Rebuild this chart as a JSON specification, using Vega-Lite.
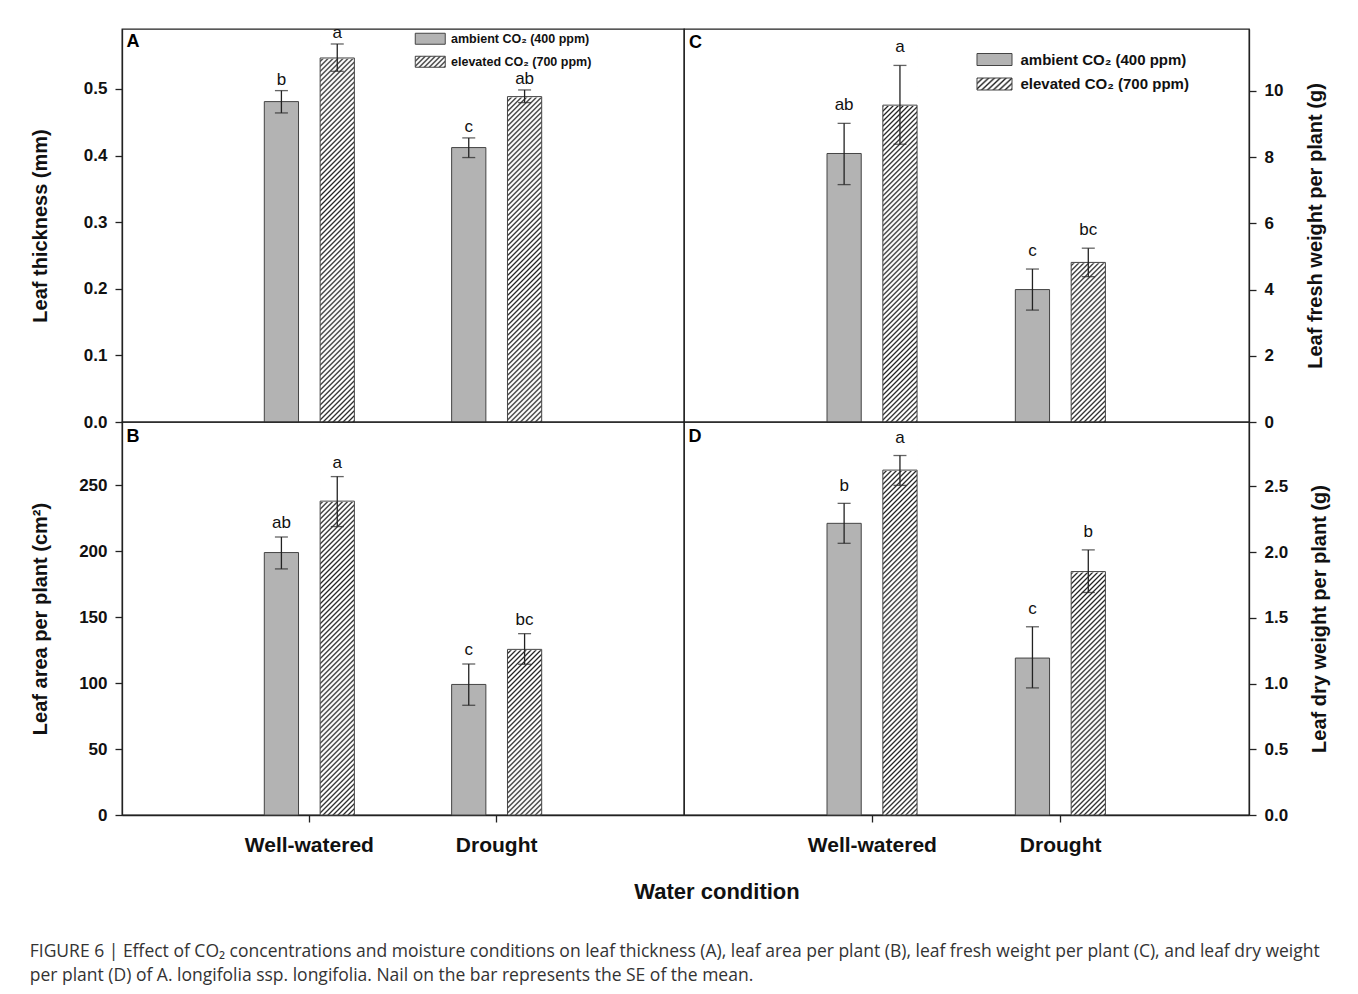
{
"$schema": "https://vega.github.io/schema/vega-lite/v6.json",
"padding": {"left": 29, "top": 23, "right": 10, "bottom": 5},
"background": "#ffffff",
"params": [
{"name": "hatch", "value": {"gradient": "linear", "x1": 0, "y1": 0, "x2": 0.1108, "y2": 1.2658, "stops": [
{"offset":0,"color":"#222"},{"offset":0.0035,"color":"#fff"},{"offset":0.0065,"color":"#fff"},
{"offset":0.01,"color":"#222"},{"offset":0.0135,"color":"#fff"},{"offset":0.0165,"color":"#fff"},
{"offset":0.02,"color":"#222"},{"offset":0.0235,"color":"#fff"},{"offset":0.0265,"color":"#fff"},
{"offset":0.03,"color":"#222"},{"offset":0.0335,"color":"#fff"},{"offset":0.0365,"color":"#fff"},
{"offset":0.04,"color":"#222"},{"offset":0.0435,"color":"#fff"},{"offset":0.0465,"color":"#fff"},
{"offset":0.05,"color":"#222"},{"offset":0.0535,"color":"#fff"},{"offset":0.0565,"color":"#fff"},
{"offset":0.06,"color":"#222"},{"offset":0.0635,"color":"#fff"},{"offset":0.0665,"color":"#fff"},
{"offset":0.07,"color":"#222"},{"offset":0.0735,"color":"#fff"},{"offset":0.0765,"color":"#fff"},
{"offset":0.08,"color":"#222"},{"offset":0.0835,"color":"#fff"},{"offset":0.0865,"color":"#fff"},
{"offset":0.09,"color":"#222"},{"offset":0.0935,"color":"#fff"},{"offset":0.0965,"color":"#fff"},
{"offset":0.1,"color":"#222"},{"offset":0.1035,"color":"#fff"},{"offset":0.1065,"color":"#fff"},
{"offset":0.11,"color":"#222"},{"offset":0.1135,"color":"#fff"},{"offset":0.1165,"color":"#fff"},
{"offset":0.12,"color":"#222"},{"offset":0.1235,"color":"#fff"},{"offset":0.1265,"color":"#fff"},
{"offset":0.13,"color":"#222"},{"offset":0.1335,"color":"#fff"},{"offset":0.1365,"color":"#fff"},
{"offset":0.14,"color":"#222"},{"offset":0.1435,"color":"#fff"},{"offset":0.1465,"color":"#fff"},
{"offset":0.15,"color":"#222"},{"offset":0.1535,"color":"#fff"},{"offset":0.1565,"color":"#fff"},
{"offset":0.16,"color":"#222"},{"offset":0.1635,"color":"#fff"},{"offset":0.1665,"color":"#fff"},
{"offset":0.17,"color":"#222"},{"offset":0.1735,"color":"#fff"},{"offset":0.1765,"color":"#fff"},
{"offset":0.18,"color":"#222"},{"offset":0.1835,"color":"#fff"},{"offset":0.1865,"color":"#fff"},
{"offset":0.19,"color":"#222"},{"offset":0.1935,"color":"#fff"},{"offset":0.1965,"color":"#fff"},
{"offset":0.2,"color":"#222"},{"offset":0.2035,"color":"#fff"},{"offset":0.2065,"color":"#fff"},
{"offset":0.21,"color":"#222"},{"offset":0.2135,"color":"#fff"},{"offset":0.2165,"color":"#fff"},
{"offset":0.22,"color":"#222"},{"offset":0.2235,"color":"#fff"},{"offset":0.2265,"color":"#fff"},
{"offset":0.23,"color":"#222"},{"offset":0.2335,"color":"#fff"},{"offset":0.2365,"color":"#fff"},
{"offset":0.24,"color":"#222"},{"offset":0.2435,"color":"#fff"},{"offset":0.2465,"color":"#fff"},
{"offset":0.25,"color":"#222"},{"offset":0.2535,"color":"#fff"},{"offset":0.2565,"color":"#fff"},
{"offset":0.26,"color":"#222"},{"offset":0.2635,"color":"#fff"},{"offset":0.2665,"color":"#fff"},
{"offset":0.27,"color":"#222"},{"offset":0.2735,"color":"#fff"},{"offset":0.2765,"color":"#fff"},
{"offset":0.28,"color":"#222"},{"offset":0.2835,"color":"#fff"},{"offset":0.2865,"color":"#fff"},
{"offset":0.29,"color":"#222"},{"offset":0.2935,"color":"#fff"},{"offset":0.2965,"color":"#fff"},
{"offset":0.3,"color":"#222"},{"offset":0.3035,"color":"#fff"},{"offset":0.3065,"color":"#fff"},
{"offset":0.31,"color":"#222"},{"offset":0.3135,"color":"#fff"},{"offset":0.3165,"color":"#fff"},
{"offset":0.32,"color":"#222"},{"offset":0.3235,"color":"#fff"},{"offset":0.3265,"color":"#fff"},
{"offset":0.33,"color":"#222"},{"offset":0.3335,"color":"#fff"},{"offset":0.3365,"color":"#fff"},
{"offset":0.34,"color":"#222"},{"offset":0.3435,"color":"#fff"},{"offset":0.3465,"color":"#fff"},
{"offset":0.35,"color":"#222"},{"offset":0.3535,"color":"#fff"},{"offset":0.3565,"color":"#fff"},
{"offset":0.36,"color":"#222"},{"offset":0.3635,"color":"#fff"},{"offset":0.3665,"color":"#fff"},
{"offset":0.37,"color":"#222"},{"offset":0.3735,"color":"#fff"},{"offset":0.3765,"color":"#fff"},
{"offset":0.38,"color":"#222"},{"offset":0.3835,"color":"#fff"},{"offset":0.3865,"color":"#fff"},
{"offset":0.39,"color":"#222"},{"offset":0.3935,"color":"#fff"},{"offset":0.3965,"color":"#fff"},
{"offset":0.4,"color":"#222"},{"offset":0.4035,"color":"#fff"},{"offset":0.4065,"color":"#fff"},
{"offset":0.41,"color":"#222"},{"offset":0.4135,"color":"#fff"},{"offset":0.4165,"color":"#fff"},
{"offset":0.42,"color":"#222"},{"offset":0.4235,"color":"#fff"},{"offset":0.4265,"color":"#fff"},
{"offset":0.43,"color":"#222"},{"offset":0.4335,"color":"#fff"},{"offset":0.4365,"color":"#fff"},
{"offset":0.44,"color":"#222"},{"offset":0.4435,"color":"#fff"},{"offset":0.4465,"color":"#fff"},
{"offset":0.45,"color":"#222"},{"offset":0.4535,"color":"#fff"},{"offset":0.4565,"color":"#fff"},
{"offset":0.46,"color":"#222"},{"offset":0.4635,"color":"#fff"},{"offset":0.4665,"color":"#fff"},
{"offset":0.47,"color":"#222"},{"offset":0.4735,"color":"#fff"},{"offset":0.4765,"color":"#fff"},
{"offset":0.48,"color":"#222"},{"offset":0.4835,"color":"#fff"},{"offset":0.4865,"color":"#fff"},
{"offset":0.49,"color":"#222"},{"offset":0.4935,"color":"#fff"},{"offset":0.4965,"color":"#fff"},
{"offset":0.5,"color":"#222"},{"offset":0.5035,"color":"#fff"},{"offset":0.5065,"color":"#fff"},
{"offset":0.51,"color":"#222"},{"offset":0.5135,"color":"#fff"},{"offset":0.5165,"color":"#fff"},
{"offset":0.52,"color":"#222"},{"offset":0.5235,"color":"#fff"},{"offset":0.5265,"color":"#fff"},
{"offset":0.53,"color":"#222"},{"offset":0.5335,"color":"#fff"},{"offset":0.5365,"color":"#fff"},
{"offset":0.54,"color":"#222"},{"offset":0.5435,"color":"#fff"},{"offset":0.5465,"color":"#fff"},
{"offset":0.55,"color":"#222"},{"offset":0.5535,"color":"#fff"},{"offset":0.5565,"color":"#fff"},
{"offset":0.56,"color":"#222"},{"offset":0.5635,"color":"#fff"},{"offset":0.5665,"color":"#fff"},
{"offset":0.57,"color":"#222"},{"offset":0.5735,"color":"#fff"},{"offset":0.5765,"color":"#fff"},
{"offset":0.58,"color":"#222"},{"offset":0.5835,"color":"#fff"},{"offset":0.5865,"color":"#fff"},
{"offset":0.59,"color":"#222"},{"offset":0.5935,"color":"#fff"},{"offset":0.5965,"color":"#fff"},
{"offset":0.6,"color":"#222"},{"offset":0.6035,"color":"#fff"},{"offset":0.6065,"color":"#fff"},
{"offset":0.61,"color":"#222"},{"offset":0.6135,"color":"#fff"},{"offset":0.6165,"color":"#fff"},
{"offset":0.62,"color":"#222"},{"offset":0.6235,"color":"#fff"},{"offset":0.6265,"color":"#fff"},
{"offset":0.63,"color":"#222"},{"offset":0.6335,"color":"#fff"},{"offset":0.6365,"color":"#fff"},
{"offset":0.64,"color":"#222"},{"offset":0.6435,"color":"#fff"},{"offset":0.6465,"color":"#fff"},
{"offset":0.65,"color":"#222"},{"offset":0.6535,"color":"#fff"},{"offset":0.6565,"color":"#fff"},
{"offset":0.66,"color":"#222"},{"offset":0.6635,"color":"#fff"},{"offset":0.6665,"color":"#fff"},
{"offset":0.67,"color":"#222"},{"offset":0.6735,"color":"#fff"},{"offset":0.6765,"color":"#fff"},
{"offset":0.68,"color":"#222"},{"offset":0.6835,"color":"#fff"},{"offset":0.6865,"color":"#fff"},
{"offset":0.69,"color":"#222"},{"offset":0.6935,"color":"#fff"},{"offset":0.6965,"color":"#fff"},
{"offset":0.7,"color":"#222"},{"offset":0.7035,"color":"#fff"},{"offset":0.7065,"color":"#fff"},
{"offset":0.71,"color":"#222"},{"offset":0.7135,"color":"#fff"},{"offset":0.7165,"color":"#fff"},
{"offset":0.72,"color":"#222"},{"offset":0.7235,"color":"#fff"},{"offset":0.7265,"color":"#fff"},
{"offset":0.73,"color":"#222"},{"offset":0.7335,"color":"#fff"},{"offset":0.7365,"color":"#fff"},
{"offset":0.74,"color":"#222"},{"offset":0.7435,"color":"#fff"},{"offset":0.7465,"color":"#fff"},
{"offset":0.75,"color":"#222"},{"offset":0.7535,"color":"#fff"},{"offset":0.7565,"color":"#fff"},
{"offset":0.76,"color":"#222"},{"offset":0.7635,"color":"#fff"},{"offset":0.7665,"color":"#fff"},
{"offset":0.77,"color":"#222"},{"offset":0.7735,"color":"#fff"},{"offset":0.7765,"color":"#fff"},
{"offset":0.78,"color":"#222"},{"offset":0.7835,"color":"#fff"},{"offset":0.7865,"color":"#fff"},
{"offset":0.79,"color":"#222"},{"offset":0.7935,"color":"#fff"},{"offset":0.7965,"color":"#fff"},
{"offset":0.8,"color":"#222"},{"offset":0.8035,"color":"#fff"},{"offset":0.8065,"color":"#fff"},
{"offset":0.81,"color":"#222"},{"offset":0.8135,"color":"#fff"},{"offset":0.8165,"color":"#fff"},
{"offset":0.82,"color":"#222"},{"offset":0.8235,"color":"#fff"},{"offset":0.8265,"color":"#fff"},
{"offset":0.83,"color":"#222"},{"offset":0.8335,"color":"#fff"},{"offset":0.8365,"color":"#fff"},
{"offset":0.84,"color":"#222"},{"offset":0.8435,"color":"#fff"},{"offset":0.8465,"color":"#fff"},
{"offset":0.85,"color":"#222"},{"offset":0.8535,"color":"#fff"},{"offset":0.8565,"color":"#fff"},
{"offset":0.86,"color":"#222"},{"offset":0.8635,"color":"#fff"},{"offset":0.8665,"color":"#fff"}
]}},
{"name": "hatchS", "value": {"gradient": "linear", "x1": 0, "y1": 0, "x2": 1.2047, "y2": 0.4417, "stops": [
{"offset":0,"color":"#222"},{"offset":0.043,"color":"#fff"},{"offset":0.079,"color":"#fff"},
{"offset":0.122,"color":"#222"},{"offset":0.165,"color":"#fff"},{"offset":0.201,"color":"#fff"},
{"offset":0.244,"color":"#222"},{"offset":0.287,"color":"#fff"},{"offset":0.323,"color":"#fff"},
{"offset":0.366,"color":"#222"},{"offset":0.409,"color":"#fff"},{"offset":0.445,"color":"#fff"},
{"offset":0.488,"color":"#222"},{"offset":0.531,"color":"#fff"},{"offset":0.567,"color":"#fff"},
{"offset":0.61,"color":"#222"},{"offset":0.653,"color":"#fff"},{"offset":0.689,"color":"#fff"},
{"offset":0.732,"color":"#222"},{"offset":0.775,"color":"#fff"},{"offset":0.811,"color":"#fff"},
{"offset":0.854,"color":"#222"},{"offset":0.897,"color":"#fff"},{"offset":0.933,"color":"#fff"},
{"offset":0.976,"color":"#222"},{"offset":1,"color":"#777"}
]}}
],
"datasets": {
"A": [
{"water":"Well-watered","co2":"ambient","mean":0.481,"lo":0.464,"hi":0.4975,"letter":"b"},
{"water":"Well-watered","co2":"elevated","mean":0.5465,"lo":0.5265,"hi":0.5675,"letter":"a"},
{"water":"Drought","co2":"ambient","mean":0.412,"lo":0.397,"hi":0.4265,"letter":"c"},
{"water":"Drought","co2":"elevated","mean":0.4885,"lo":0.4795,"hi":0.4985,"letter":"ab"}
],
"B": [
{"water":"Well-watered","co2":"ambient","mean":199,"lo":186.6,"hi":210.8,"letter":"ab"},
{"water":"Well-watered","co2":"elevated","mean":238,"lo":218.7,"hi":256.6,"letter":"a"},
{"water":"Drought","co2":"ambient","mean":99,"lo":83.2,"hi":114.5,"letter":"c"},
{"water":"Drought","co2":"elevated","mean":125.6,"lo":114.3,"hi":137.5,"letter":"bc"}
],
"C": [
{"water":"Well-watered","co2":"ambient","mean":8.11,"lo":7.17,"hi":9.02,"letter":"ab"},
{"water":"Well-watered","co2":"elevated","mean":9.57,"lo":8.39,"hi":10.77,"letter":"a"},
{"water":"Drought","co2":"ambient","mean":4.0,"lo":3.38,"hi":4.62,"letter":"c"},
{"water":"Drought","co2":"elevated","mean":4.82,"lo":4.39,"hi":5.25,"letter":"bc"}
],
"D": [
{"water":"Well-watered","co2":"ambient","mean":2.219,"lo":2.067,"hi":2.371,"letter":"b"},
{"water":"Well-watered","co2":"elevated","mean":2.624,"lo":2.508,"hi":2.735,"letter":"a"},
{"water":"Drought","co2":"ambient","mean":1.194,"lo":0.967,"hi":1.432,"letter":"c"},
{"water":"Drought","co2":"elevated","mean":1.852,"lo":1.693,"hi":2.017,"letter":"b"}
]
},
"title": {"text": ["FIGURE 6 | Effect of CO₂ concentrations and moisture conditions on leaf thickness (A), leaf area per plant (B), leaf fresh weight per plant (C), and leaf dry weight", "per plant (D) of A. longifolia ssp. longifolia. Nail on the bar represents the SE of the mean."], "orient": "bottom", "anchor": "start", "fontSize": 17.5, "fontWeight": "normal", "color": "#333", "offset": 40, "lineHeight": 24, "font": "Open Sans"},
"vconcat": [{
"concat": [
{
"width": 562, "height": 393,
"data": {"name": "A"},
"title": {"text": "A", "anchor": "start", "frame": "group", "orient": "top", "offset": -27.5, "dx": 4.5, "fontSize": 18, "fontWeight": "bold", "color": "#000"},
"encoding": {
"x": {"field": "water", "type": "nominal", "sort": null, "scale": {"domain": ["Well-watered", "Drought"], "paddingInner": 0.4, "paddingOuter": 0.7}, "axis": null},
"xOffset": {"field": "co2", "type": "nominal", "scale": {"domain": ["ambient", "elevated"], "paddingInner": 0.387, "paddingOuter": 0.2}},
"y": {"field": "mean", "type": "quantitative", "stack": null, "scale": {"domain": [0, 0.59], "nice": false, "zero": true}, "axis": {"orient": "left", "values": [0, 0.1, 0.2, 0.3, 0.4, 0.5], "format": ".1f", "title": "Leaf thickness (mm)", "titlePadding": 33}}
},
"layer": [
{"transform": [{"filter": "datum.co2 === 'ambient'"}], "mark": {"type": "bar", "stroke": "#444", "strokeWidth": 1},
 "encoding": {"fill": {"field": "co2", "type": "nominal", "scale": {"domain": ["ambient", "elevated"], "range": [{"expr": "'#b3b3b3'"}, {"expr": "hatchS"}]},
  "legend": {"orient": "none", "legendX": 302, "legendY": 3.5, "title": null, "padding": 0, "symbolType": "M-2.727,-1H2.727V1H-2.727Z", "symbolSize": 121, "symbolStrokeColor": "#444", "symbolStrokeWidth": 1, "labelFontSize": 12.5, "labelFontWeight": "bold", "labelColor": "#111", "labelOffset": 14.5, "labelLimit": 400, "rowPadding": 7,
   "labelExpr": "datum.value === 'ambient' ? 'ambient CO₂ (400 ppm)' : 'elevated CO₂ (700 ppm)'",
   "encode": {"symbols": {"update": {"stroke": {"value": "#444"}, "strokeWidth": {"value": 1}, "opacity": {"value": 1}}}}}}}},
{"transform": [{"filter": "datum.co2 === 'elevated'"}], "mark": {"type": "bar", "fill": {"expr": "hatch"}}, "encoding": {"y": {"datum": 0.5862, "type": "quantitative"}, "y2": {"datum": 0}}},
{"transform": [{"filter": "datum.co2 === 'elevated'"}], "mark": {"type": "bar", "fill": "#ffffff", "stroke": "#ffffff", "strokeWidth": 1.6}, "encoding": {"y2": {"datum": 0.5862}}},
{"transform": [{"filter": "datum.co2 === 'elevated'"}], "mark": {"type": "bar", "fill": "transparent", "stroke": "#444", "strokeWidth": 1}},
{"mark": {"type": "rule", "color": "#222", "strokeWidth": 1.3}, "encoding": {"y": {"field": "lo", "type": "quantitative"}, "y2": {"field": "hi"}}},
{"mark": {"type": "tick", "color": "#222", "size": 13, "thickness": 1.3}, "encoding": {"y": {"field": "lo", "type": "quantitative"}}},
{"mark": {"type": "tick", "color": "#222", "size": 13, "thickness": 1.3}, "encoding": {"y": {"field": "hi", "type": "quantitative"}}},
{"mark": {"type": "text", "fontSize": 17, "baseline": "middle", "dy": -11, "color": "#111"}, "encoding": {"y": {"field": "hi", "type": "quantitative"}, "text": {"field": "letter"}}},
{"data": {"values": [{"t": "HSD=0.06"}]}, "mark": {"type": "text", "fontSize": 17, "baseline": "middle", "dx": -26, "color": "#111"}, "encoding": {"x": {"datum": "Well-watered"}, "xOffset": {"datum": "ambient"}, "y": {"datum": 0.577, "type": "quantitative"}, "text": {"field": "t"}}}
]
},
{
"width": 565, "height": 393,
"data": {"name": "C"},
"title": {"text": "C", "anchor": "start", "frame": "group", "orient": "top", "offset": -22.5, "dx": 5, "fontSize": 18, "fontWeight": "bold", "color": "#000"},
"encoding": {
"x": {"field": "water", "type": "nominal", "sort": null, "scale": {"domain": ["Well-watered", "Drought"], "paddingInner": 0.4, "paddingOuter": 0.7}, "axis": null},
"xOffset": {"field": "co2", "type": "nominal", "scale": {"domain": ["ambient", "elevated"], "paddingInner": 0.387, "paddingOuter": 0.2}},
"y": {"field": "mean", "type": "quantitative", "stack": null, "scale": {"domain": [0, 11.87], "nice": false, "zero": true}, "axis": {"orient": "right", "values": [0, 2, 4, 6, 8, 10], "title": "Leaf fresh weight per plant (g)", "titleAngle": 270, "titleBaseline": "top", "titlePadding": 23}}
},
"layer": [
{"transform": [{"filter": "datum.co2 === 'ambient'"}], "mark": {"type": "bar", "stroke": "#444", "strokeWidth": 1},
 "encoding": {"fill": {"field": "co2", "type": "nominal", "scale": {"domain": ["ambient", "elevated"], "range": [{"expr": "'#b3b3b3'"}, {"expr": "hatchS"}]},
  "legend": {"orient": "none", "legendX": 303, "legendY": 23, "title": null, "padding": 0, "symbolType": "M-2.917,-1H2.917V1H-2.917Z", "symbolSize": 144, "symbolStrokeColor": "#444", "symbolStrokeWidth": 1, "labelFontSize": 15, "labelFontWeight": "bold", "labelColor": "#111", "labelOffset": 18.5, "labelLimit": 400, "rowPadding": 7.5,
   "labelExpr": "datum.value === 'ambient' ? 'ambient CO₂ (400 ppm)' : 'elevated CO₂ (700 ppm)'",
   "encode": {"symbols": {"update": {"stroke": {"value": "#444"}, "strokeWidth": {"value": 1}, "opacity": {"value": 1}}}}}}}},
{"transform": [{"filter": "datum.co2 === 'elevated'"}], "mark": {"type": "bar", "fill": {"expr": "hatch"}}, "encoding": {"y": {"datum": 11.795, "type": "quantitative"}, "y2": {"datum": 0}}},
{"transform": [{"filter": "datum.co2 === 'elevated'"}], "mark": {"type": "bar", "fill": "#ffffff", "stroke": "#ffffff", "strokeWidth": 1.6}, "encoding": {"y2": {"datum": 11.795}}},
{"transform": [{"filter": "datum.co2 === 'elevated'"}], "mark": {"type": "bar", "fill": "transparent", "stroke": "#444", "strokeWidth": 1}},
{"mark": {"type": "rule", "color": "#222", "strokeWidth": 1.3}, "encoding": {"y": {"field": "lo", "type": "quantitative"}, "y2": {"field": "hi"}}},
{"mark": {"type": "tick", "color": "#222", "size": 13, "thickness": 1.3}, "encoding": {"y": {"field": "lo", "type": "quantitative"}}},
{"mark": {"type": "tick", "color": "#222", "size": 13, "thickness": 1.3}, "encoding": {"y": {"field": "hi", "type": "quantitative"}}},
{"mark": {"type": "text", "fontSize": 17, "baseline": "middle", "dy": -18, "color": "#111"}, "encoding": {"y": {"field": "hi", "type": "quantitative"}, "text": {"field": "letter"}}},
{"data": {"values": [{"t": "HSD=3.55"}]}, "mark": {"type": "text", "fontSize": 17, "baseline": "middle", "dx": -7.4, "color": "#111"}, "encoding": {"x": {"datum": "Well-watered"}, "xOffset": {"datum": "ambient"}, "y": {"datum": 11.51, "type": "quantitative"}, "text": {"field": "t"}}}
]
},
{
"width": 562, "height": 393,
"data": {"name": "B"},
"title": {"text": "B", "anchor": "start", "frame": "group", "orient": "top", "offset": -23.5, "dx": 4.5, "fontSize": 18, "fontWeight": "bold", "color": "#000"},
"encoding": {
"x": {"field": "water", "type": "nominal", "sort": null, "scale": {"domain": ["Well-watered", "Drought"], "paddingInner": 0.4, "paddingOuter": 0.7}, "axis": {"orient": "bottom", "title": null, "labelFontSize": 21, "labelAngle": 0, "labelPadding": 12.5, "tickSize": 7}},
"xOffset": {"field": "co2", "type": "nominal", "scale": {"domain": ["ambient", "elevated"], "paddingInner": 0.387, "paddingOuter": 0.2}},
"y": {"field": "mean", "type": "quantitative", "stack": null, "scale": {"domain": [0, 298], "nice": false, "zero": true}, "axis": {"orient": "left", "values": [0, 50, 100, 150, 200, 250], "title": "Leaf area per plant (cm²)", "titlePadding": 28}}
},
"layer": [
{"transform": [{"filter": "datum.co2 === 'ambient'"}], "mark": {"type": "bar", "fill": "#b3b3b3", "stroke": "#444", "strokeWidth": 1}},
{"transform": [{"filter": "datum.co2 === 'elevated'"}], "mark": {"type": "bar", "fill": {"expr": "hatch"}}, "encoding": {"y": {"datum": 296.1, "type": "quantitative"}, "y2": {"datum": 0}}},
{"transform": [{"filter": "datum.co2 === 'elevated'"}], "mark": {"type": "bar", "fill": "#ffffff", "stroke": "#ffffff", "strokeWidth": 1.6}, "encoding": {"y2": {"datum": 296.1}}},
{"transform": [{"filter": "datum.co2 === 'elevated'"}], "mark": {"type": "bar", "fill": "transparent", "stroke": "#444", "strokeWidth": 1}},
{"mark": {"type": "rule", "color": "#222", "strokeWidth": 1.3}, "encoding": {"y": {"field": "lo", "type": "quantitative"}, "y2": {"field": "hi"}}},
{"mark": {"type": "tick", "color": "#222", "size": 13, "thickness": 1.3}, "encoding": {"y": {"field": "lo", "type": "quantitative"}}},
{"mark": {"type": "tick", "color": "#222", "size": 13, "thickness": 1.3}, "encoding": {"y": {"field": "hi", "type": "quantitative"}}},
{"mark": {"type": "text", "fontSize": 17, "baseline": "middle", "dy": -14, "color": "#111"}, "encoding": {"y": {"field": "hi", "type": "quantitative"}, "text": {"field": "letter"}}},
{"data": {"values": [{"t": "HSD=84.05"}]}, "mark": {"type": "text", "fontSize": 17, "baseline": "middle", "dx": 54.5, "color": "#111"}, "encoding": {"x": {"datum": "Drought"}, "xOffset": {"datum": "ambient"}, "y": {"datum": 285.1, "type": "quantitative"}, "text": {"field": "t"}}}
]
},
{
"width": 565, "height": 393,
"data": {"name": "D"},
"title": {"text": "D", "anchor": "start", "frame": "group", "orient": "top", "offset": -23.5, "dx": 4.5, "fontSize": 18, "fontWeight": "bold", "color": "#000"},
"encoding": {
"x": {"field": "water", "type": "nominal", "sort": null, "scale": {"domain": ["Well-watered", "Drought"], "paddingInner": 0.4, "paddingOuter": 0.7}, "axis": {"orient": "bottom", "title": null, "labelFontSize": 21, "labelAngle": 0, "labelPadding": 12.5, "tickSize": 7}},
"xOffset": {"field": "co2", "type": "nominal", "scale": {"domain": ["ambient", "elevated"], "paddingInner": 0.387, "paddingOuter": 0.2}},
"y": {"field": "mean", "type": "quantitative", "stack": null, "scale": {"domain": [0, 2.99], "nice": false, "zero": true}, "axis": {"orient": "right", "values": [0, 0.5, 1, 1.5, 2, 2.5], "format": ".1f", "title": "Leaf dry weight per plant (g)", "titleAngle": 270, "titleBaseline": "top", "titlePadding": 22}}
},
"layer": [
{"transform": [{"filter": "datum.co2 === 'ambient'"}], "mark": {"type": "bar", "fill": "#b3b3b3", "stroke": "#444", "strokeWidth": 1}},
{"transform": [{"filter": "datum.co2 === 'elevated'"}], "mark": {"type": "bar", "fill": {"expr": "hatch"}}, "encoding": {"y": {"datum": 2.971, "type": "quantitative"}, "y2": {"datum": 0}}},
{"transform": [{"filter": "datum.co2 === 'elevated'"}], "mark": {"type": "bar", "fill": "#ffffff", "stroke": "#ffffff", "strokeWidth": 1.6}, "encoding": {"y2": {"datum": 2.971}}},
{"transform": [{"filter": "datum.co2 === 'elevated'"}], "mark": {"type": "bar", "fill": "transparent", "stroke": "#444", "strokeWidth": 1}},
{"mark": {"type": "rule", "color": "#222", "strokeWidth": 1.3}, "encoding": {"y": {"field": "lo", "type": "quantitative"}, "y2": {"field": "hi"}}},
{"mark": {"type": "tick", "color": "#222", "size": 13, "thickness": 1.3}, "encoding": {"y": {"field": "lo", "type": "quantitative"}}},
{"mark": {"type": "tick", "color": "#222", "size": 13, "thickness": 1.3}, "encoding": {"y": {"field": "hi", "type": "quantitative"}}},
{"mark": {"type": "text", "fontSize": 17, "baseline": "middle", "dy": -17.5, "color": "#111"}, "encoding": {"y": {"field": "hi", "type": "quantitative"}, "text": {"field": "letter"}}},
{"data": {"values": [{"t": "HSD=0.39"}]}, "mark": {"type": "text", "fontSize": 17, "baseline": "middle", "dx": 75, "color": "#111"}, "encoding": {"x": {"datum": "Well-watered"}, "xOffset": {"datum": "elevated"}, "y": {"datum": 2.90, "type": "quantitative"}, "text": {"field": "t"}}}
]
}
],
"columns": 2,
"spacing": 0,
"bounds": "flush",
"align": "each",
"resolve": {"scale": {"fill": "independent"}, "legend": {"fill": "independent"}},
"title": {"text": "Water condition", "orient": "bottom", "anchor": "middle", "fontSize": 22, "fontWeight": "bold", "color": "#111", "offset": 26, "dx": 37, "font": "Liberation Sans"}
}],
"config": {
"font": "Liberation Sans",
"view": {"stroke": "#222", "strokeWidth": 1.3},
"axis": {"grid": false, "domainColor": "#222", "domainWidth": 1.3, "tickColor": "#222", "tickWidth": 1.3, "tickSize": 7, "labelPadding": 8, "labelFontSize": 17, "labelFontWeight": "bold", "labelColor": "#111", "labelFlush": false, "labelOverlap": false, "titleFontSize": 20, "titleFontWeight": "bold", "titleColor": "#111", "labelFont": "Liberation Sans", "titleFont": "Liberation Sans"},
"text": {"font": "Liberation Sans"},
"title": {"font": "Liberation Sans"}
}
}
